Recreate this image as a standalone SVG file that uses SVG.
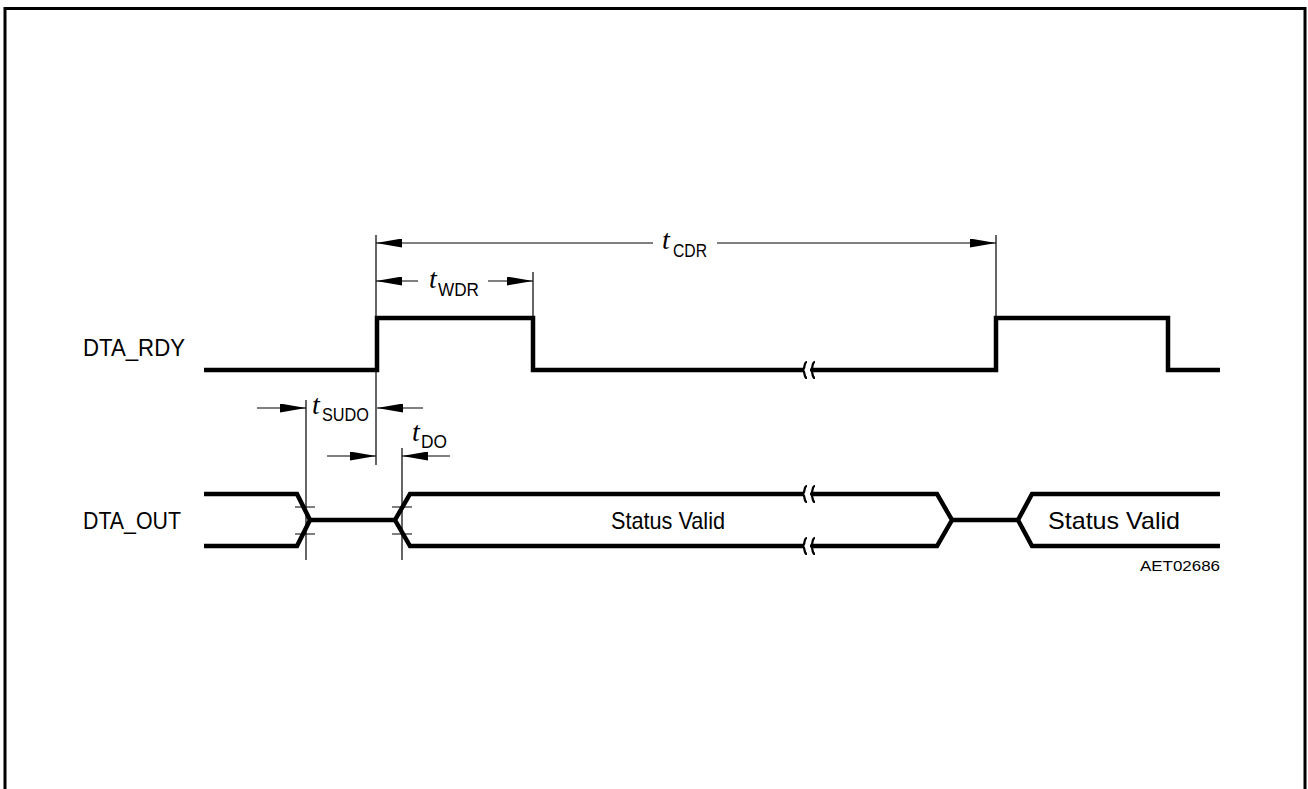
<svg xmlns="http://www.w3.org/2000/svg" width="1308" height="789" viewBox="0 0 1308 789">
<style>
.sig{fill:none;stroke:#000;stroke-width:4.5;stroke-linejoin:miter}
.thin{fill:none;stroke:#000;stroke-width:1.2}
.brk{fill:none;stroke:#000;stroke-width:2.2}
.lbl{font-family:"Liberation Sans",Arial,sans-serif;font-size:24px;fill:#000}
.t{font-family:"Liberation Serif","Times New Roman",serif;font-style:italic;font-size:28px;fill:#000}
.sub{font-family:"Liberation Sans",Arial,sans-serif;font-size:18px;fill:#000}
.id{font-family:"Liberation Sans",Arial,sans-serif;font-size:15px;fill:#000}
</style>
<defs>
<marker id="ar" viewBox="0 0 26 9" refX="26" refY="4.5" markerWidth="26" markerHeight="9" markerUnits="userSpaceOnUse" orient="auto">
<path d="M0,0 L26,4.5 L0,9 Z" fill="#000"/>
</marker>
</defs>
<rect x="5" y="8.5" width="1300" height="800" fill="#fff" stroke="#000" stroke-width="3"/>

<g id="dta_rdy">
<text class="lbl" x="83" y="356" textLength="102" lengthAdjust="spacingAndGlyphs">DTA_RDY</text>
<path class="sig" d="M204,370 H377 V318 H533 V370 H803"/>
<path class="sig" d="M811,370 H996 V318 H1168 V370 H1220"/>
<path class="brk" d="M807,362 C803,362 806,370 802,370 M807,378 C803,378 806,370 802,370"/>
<path class="brk" d="M815,362 C811,362 814,370 810,370 M815,378 C811,378 814,370 810,370"/>
</g>

<g id="dta_out">
<text class="lbl" x="83" y="529" textLength="98" lengthAdjust="spacingAndGlyphs">DTA_OUT</text>
<path class="sig" d="M204,494 H297 L310,520 L297,546 H204"/>
<path class="sig" d="M310,520 H395"/>
<path class="sig" d="M803,494 H410 L395,520 L410,546 H803"/>
<path class="sig" d="M811,494 H937 L952,520 L937,546 H811"/>
<path class="sig" d="M952,520 H1018"/>
<path class="sig" d="M1220,494 H1032 L1018,520 L1032,546 H1220"/>
<path class="brk" d="M807,486 C803,486 806,494 802,494 M807,502 C803,502 806,494 802,494"/>
<path class="brk" d="M815,486 C811,486 814,494 810,494 M815,502 C811,502 814,494 810,494"/>
<path class="brk" d="M807,538 C803,538 806,546 802,546 M807,554 C803,554 806,546 802,546"/>
<path class="brk" d="M815,538 C811,538 814,546 810,546 M815,554 C811,554 814,546 810,546"/>
<text class="lbl" x="611" y="529" textLength="114" lengthAdjust="spacingAndGlyphs">Status Valid</text>
<text class="lbl" x="1048" y="529" textLength="132" lengthAdjust="spacingAndGlyphs">Status Valid</text>
<path class="thin" d="M295,507 H315 M295,534 H315 M392,507 H412 M392,534 H412"/>
</g>

<g id="connectors">
<path class="thin" d="M376,235 V465 M533,272 V318 M996,235 V318 M306,400 V560 M402,448 V560"/>
<path class="thin" d="M653,243 H376" marker-end="url(#ar)"/>
<path class="thin" d="M717,243 H996" marker-end="url(#ar)"/>
<path class="thin" d="M418,281 H376" marker-end="url(#ar)"/>
<path class="thin" d="M488,281 H533" marker-end="url(#ar)"/>
<path class="thin" d="M257,408 H306" marker-end="url(#ar)"/>
<path class="thin" d="M423,408 H377" marker-end="url(#ar)"/>
<path class="thin" d="M327,456 H376" marker-end="url(#ar)"/>
<path class="thin" d="M450,456 H402" marker-end="url(#ar)"/>
</g>

<g id="labels">
<text class="t" x="662" y="249">t</text><text class="sub" x="673" y="257" textLength="34" lengthAdjust="spacingAndGlyphs">CDR</text>
<text class="t" x="429" y="288">t</text><text class="sub" x="438" y="296" textLength="41" lengthAdjust="spacingAndGlyphs">WDR</text>
<text class="t" x="312" y="414">t</text><text class="sub" x="322" y="421" textLength="47" lengthAdjust="spacingAndGlyphs">SUDO</text>
<text class="t" x="412" y="441">t</text><text class="sub" x="421" y="448" textLength="26" lengthAdjust="spacingAndGlyphs">DO</text>
<text class="id" x="1140" y="571" textLength="80" lengthAdjust="spacingAndGlyphs">AET02686</text>
</g>
</svg>
